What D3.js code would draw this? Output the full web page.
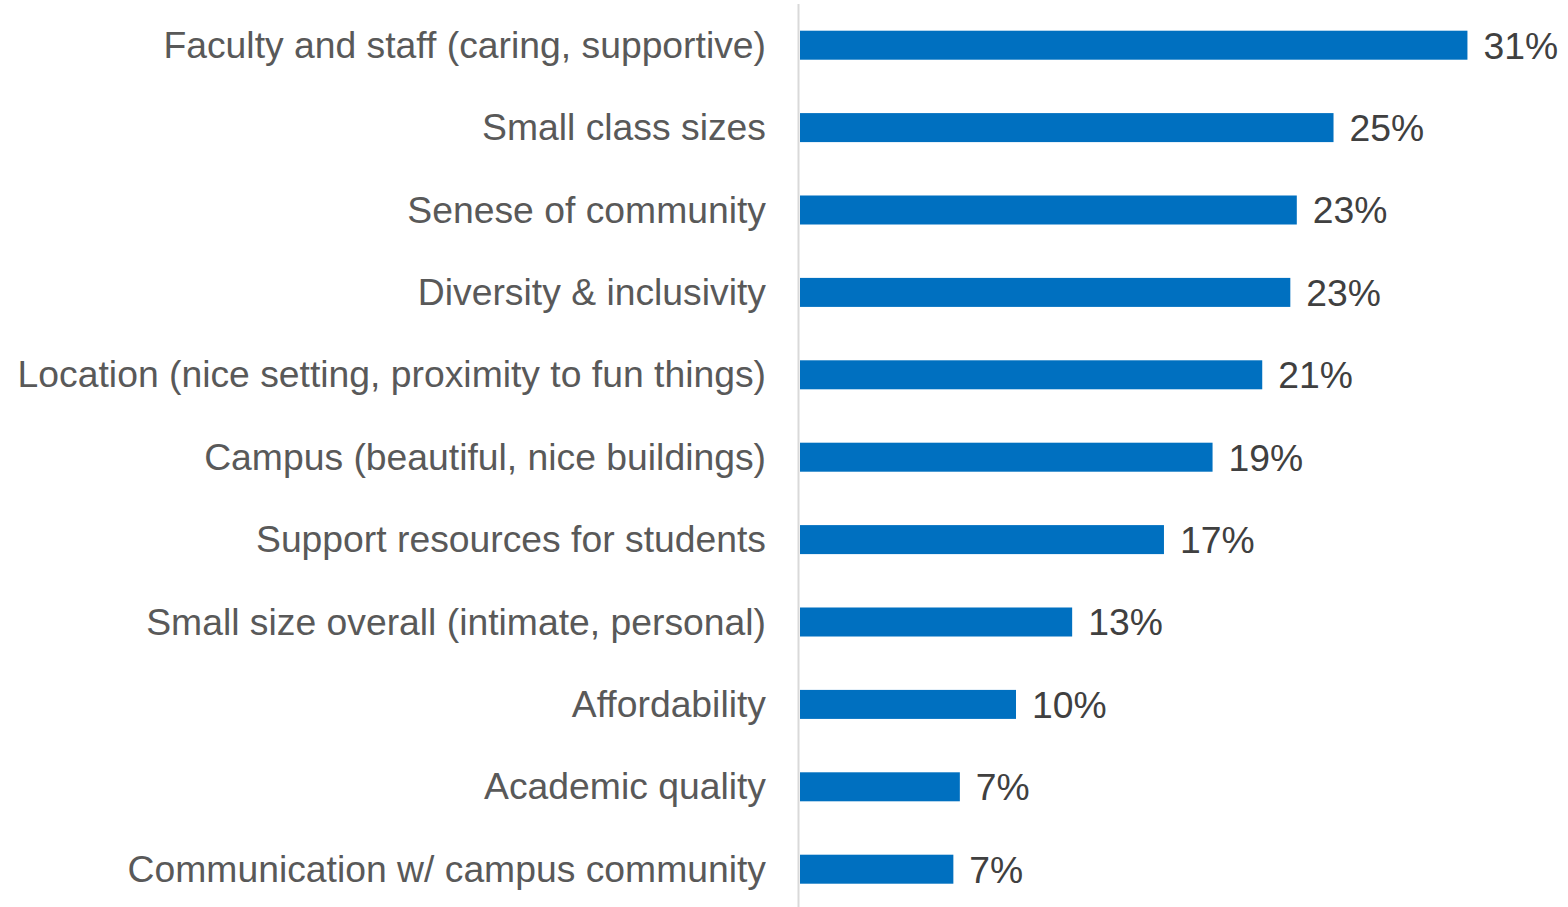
<!DOCTYPE html>
<html><head><meta charset="utf-8">
<script src="https://cdn.jsdelivr.net/npm/d3@7"></script>
<style>html,body{margin:0;padding:0;background:#fff;}svg{display:block;}</style>
</head><body>
<svg id="chart" width="1568" height="907"></svg>
<script>
const categories = [
  "Faculty and staff (caring, supportive)",
  "Small class sizes",
  "Senese of community",
  "Diversity & inclusivity",
  "Location (nice setting, proximity to fun things)",
  "Campus (beautiful, nice buildings)",
  "Support resources for students",
  "Small size overall (intimate, personal)",
  "Affordability",
  "Academic quality",
  "Communication w/ campus community"
];
const values = [30.9, 24.7, 23.0, 22.7, 21.4, 19.1, 16.85, 12.6, 10.0, 7.4, 7.1];
const valueLabels = ["31%", "25%", "23%", "23%", "21%", "19%", "17%", "13%", "10%", "7%", "7%"];

const svg = d3.select("#chart");
const x = d3.scaleLinear().domain([0, 35]).range([800, 1556]);
const y = d3.scaleBand().domain(categories).range([4, 910.4]).paddingInner(0.648).paddingOuter(0.324);

const font = "'Liberation Sans', Arial, sans-serif";

svg.append("g").selectAll("rect").data(categories).join("rect")
  .attr("x", x(0))
  .attr("y", d => y(d))
  .attr("width", (d, i) => x(values[i]) - x(0))
  .attr("height", y.bandwidth())
  .attr("fill", "#0070C0");

svg.append("line")
  .attr("x1", 798.5).attr("x2", 798.5)
  .attr("y1", 4).attr("y2", 907)
  .attr("stroke", "#d9d9d9").attr("stroke-width", 2);

svg.append("g").selectAll("text").data(categories).join("text")
  .attr("x", 766)
  .attr("y", d => y(d) + y.bandwidth() / 2)
  .attr("dy", "0.34em")
  .attr("text-anchor", "end")
  .attr("font-family", font)
  .attr("font-size", 37.3)
  .attr("fill", "#595959")
  .text(d => d);

svg.append("g").selectAll("text").data(categories).join("text")
  .attr("x", (d, i) => x(values[i]) + 16)
  .attr("y", d => y(d) + y.bandwidth() / 2)
  .attr("dy", "0.36em")
  .attr("font-family", font)
  .attr("font-size", 37.3)
  .attr("fill", "#404040")
  .text((d, i) => valueLabels[i]);
</script>
</body></html>
